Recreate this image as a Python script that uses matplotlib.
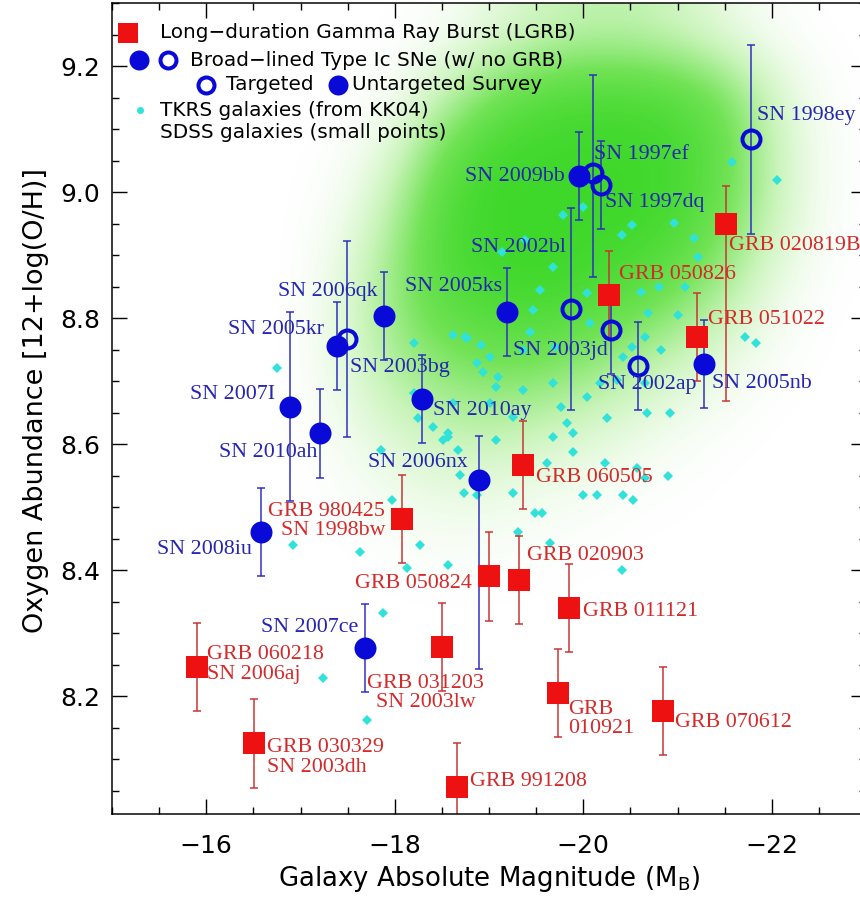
import matplotlib

matplotlib.use('Agg')

import numpy as np
import matplotlib.pyplot as plt
from matplotlib.colors import LinearSegmentedColormap
from matplotlib.ticker import MultipleLocator

# ---- long-duration GRB host galaxies ----
grb_names = ['GRB 980425\nSN 1998bw', 'GRB 060218\nSN 2006aj', 'GRB 030329\nSN 2003dh',
             'GRB 031203\nSN 2003lw', 'GRB 991208', 'GRB 050824', 'GRB 020903',
             'GRB 060505', 'GRB 011121', 'GRB\n010921', 'GRB 070612', 'GRB 050826',
             'GRB 051022', 'GRB 020819B']
grb_mag = [-18.08, -15.90, -16.51, -18.50, -18.66, -19.00, -19.32,
           -19.36, -19.85, -19.73, -20.85, -20.27, -21.21, -21.51]
grb_oh = [8.481, 8.246, 8.125, 8.278, 8.056, 8.390, 8.384,
          8.567, 8.340, 8.205, 8.176, 8.837, 8.770, 8.949]
grb_err_lo = [0.07, 0.07, 0.07, 0.07, 0.07, 0.07, 0.07, 0.07, 0.07, 0.07, 0.07, 0.07, 0.07, 0.28]
grb_err_hi = [0.07, 0.07, 0.07, 0.07, 0.07, 0.07, 0.07, 0.07, 0.07, 0.07, 0.07, 0.07, 0.07, 0.06]

# ---- broad-lined Type Ic SNe without GRB ----
sn_names = ['SN 2007I', 'SN 2010ah', 'SN 2005kr', 'SN 2006qk', 'SN 2003bg', 'SN 2010ay',
            'SN 2006nx', 'SN 2008iu', 'SN 2007ce', 'SN 2009bb', 'SN 1997ef', 'SN 1997dq',
            'SN 1998ey', 'SN 2005ks', 'SN 2002bl', 'SN 2003jd', 'SN 2002ap', 'SN 2005nb']
sn_mag = [-16.89, -17.21, -17.39, -17.49, -17.89, -18.29,
          -18.89, -16.58, -17.68, -19.95, -20.10, -20.19,
          -21.78, -19.19, -19.87, -20.29, -20.58, -21.28]
sn_oh = [8.659, 8.617, 8.756, 8.767, 8.803, 8.671,
         8.543, 8.460, 8.276, 9.025, 9.030, 9.011,
         9.084, 8.810, 8.814, 8.781, 8.724, 8.727]
sn_err_lo = [0.15, 0.07, 0.07, 0.155, 0.07, 0.07,
             0.30, 0.07, 0.07, 0.07, 0.165, 0.07,
             0.15, 0.07, 0.16, 0.07, 0.07, 0.07]
sn_err_hi = [0.15, 0.07, 0.07, 0.155, 0.07, 0.07,
             0.07, 0.07, 0.07, 0.07, 0.155, 0.07,
             0.15, 0.07, 0.16, 0.07, 0.07, 0.07]
sn_targeted = [False, False, False, True, False, False,
               False, False, False, False, True, True,
               True, False, True, True, True, False]

# ---- TKRS galaxies (KK04) ----
tkrs_mag = [-22.06, -21.58, -20.96, -20.52, -21.17, -21.22, -20.80, -20.61, -21.08, -20.69,
            -21.00, -21.72, -21.83, -20.52, -20.66, -20.82, -20.42, -20.36, -20.04, -20.07,
            -19.70, -19.44, -19.36, -18.91, -18.75, -18.87, -18.94, -19.10, -19.07, -19.36,
            -19.68, -19.76, -20.04, -20.18, -20.66, -20.68, -20.92, -20.25, -19.83, -19.89,
            -19.68, -19.25, -19.07, -18.57, -19.01, -19.54, -19.68, -19.14, -19.38, -19.78,
            -20.00, -20.41, -19.47, -19.62, -19.89, -20.23, -20.57, -20.66, -20.90, -19.25,
            -20.00, -20.15, -20.42, -20.53, -19.49, -19.56, -19.31, -19.65, -20.41, -18.67,
            -18.73, -18.69, -17.97, -18.27, -17.63, -16.92, -18.13, -18.56, -17.88, -17.24,
            -17.71, -18.87, -16.75, -18.20, -18.62, -18.77, -18.20, -18.25, -18.41, -18.56,
            -18.51, -17.85, -18.62, -19.01]
tkrs_oh = [9.019, 9.048, 8.951, 8.948, 8.927, 8.897, 8.849, 8.841, 8.849, 8.808,
           8.805, 8.770, 8.760, 8.754, 8.770, 8.749, 8.738, 8.702, 8.840, 8.792,
           8.754, 8.778, 8.749, 8.757, 8.770, 8.729, 8.714, 8.706, 8.690, 8.686,
           8.697, 8.659, 8.675, 8.697, 8.697, 8.649, 8.649, 8.641, 8.633, 8.617,
           8.611, 8.643, 8.606, 8.611, 8.738, 8.844, 8.881, 8.905, 8.924, 8.963,
           8.976, 8.932, 8.813, 8.570, 8.587, 8.570, 8.562, 8.546, 8.549, 8.522,
           8.519, 8.519, 8.519, 8.511, 8.490, 8.490, 8.460, 8.443, 8.400, 8.590,
           8.522, 8.551, 8.511, 8.440, 8.429, 8.440, 8.403, 8.408, 8.332, 8.229,
           8.162, 8.519, 8.721, 8.760, 8.773, 8.768, 8.681, 8.641, 8.627, 8.617,
           8.606, 8.590, 8.665, 8.665]

# ---- SDSS galaxy density (relative), rows = 12+log(O/H), cols = M_B ----
sdss_mag = [-16.5, -17.0, -17.5, -18.0, -18.5, -19.0, -19.5, -20.0, -20.5, -21.0, -21.5, -22.0, -22.5, -23.0]
sdss_oh = [9.25, 9.15, 9.05, 8.95, 8.85, 8.75, 8.65, 8.55, 8.45, 8.35]
sdss_density = [
    [0.00, 0.00, 0.00, 0.00, 0.02, 0.12, 0.25, 0.32, 0.32, 0.25, 0.12, 0.02, 0.00, 0.00],
    [0.00, 0.00, 0.00, 0.04, 0.30, 0.65, 0.85, 0.92, 0.92, 0.85, 0.65, 0.25, 0.03, 0.00],
    [0.00, 0.00, 0.02, 0.22, 0.72, 0.98, 1.00, 1.00, 1.00, 0.95, 0.75, 0.32, 0.05, 0.00],
    [0.00, 0.00, 0.08, 0.42, 0.88, 1.00, 1.00, 1.00, 1.00, 0.92, 0.65, 0.28, 0.04, 0.00],
    [0.00, 0.00, 0.18, 0.52, 0.85, 0.95, 1.00, 0.95, 0.85, 0.68, 0.42, 0.12, 0.01, 0.00],
    [0.00, 0.00, 0.18, 0.45, 0.62, 0.72, 0.72, 0.62, 0.48, 0.32, 0.16, 0.03, 0.00, 0.00],
    [0.00, 0.00, 0.10, 0.26, 0.38, 0.42, 0.38, 0.28, 0.18, 0.08, 0.02, 0.00, 0.00, 0.00],
    [0.00, 0.00, 0.03, 0.10, 0.16, 0.16, 0.11, 0.07, 0.03, 0.01, 0.00, 0.00, 0.00, 0.00],
    [0.00, 0.00, 0.00, 0.02, 0.04, 0.03, 0.02, 0.01, 0.00, 0.00, 0.00, 0.00, 0.00, 0.00],
    [0.00, 0.00, 0.00, 0.00, 0.00, 0.00, 0.00, 0.00, 0.00, 0.00, 0.00, 0.00, 0.00, 0.00],
]

# label placement: (dx, dy) in points from the marker, horizontal alignment
grb_label_pos = {
    'GRB 980425\nSN 1998bw': (-17, -2, 'right'),
    'GRB 060218\nSN 2006aj': (10, 3, 'left'),
    'GRB 030329\nSN 2003dh': (13, -14, 'left'),
    'GRB 031203\nSN 2003lw': (-16, -46, 'center'),
    'GRB 991208': (13, 5, 'left'),
    'GRB 050824': (-17, -7, 'right'),
    'GRB 020903': (8, 25, 'left'),
    'GRB 060505': (13, -13, 'left'),
    'GRB 011121': (14, -4, 'left'),
    'GRB\n010921': (10, -26, 'left'),
    'GRB 070612': (12, -11, 'left'),
    'GRB 050826': (10, 20, 'left'),
    'GRB 051022': (11, 17, 'left'),
    'GRB 020819B': (3, -21, 'left'),
}
sn_label_pos = {
    'SN 2007I': (-15, 12, 'right'),
    'SN 2010ah': (-3, -19, 'right'),
    'SN 2005kr': (-13, 16, 'right'),
    'SN 2006qk': (31, 47, 'right'),
    'SN 2003bg': (-34, -51, 'left'),
    'SN 2010ay': (11, -11, 'left'),
    'SN 2006nx': (-11, 18, 'right'),
    'SN 2008iu': (-9, -17, 'right'),
    'SN 2007ce': (-6, 21, 'right'),
    'SN 2009bb': (-14, 0, 'right'),
    'SN 1997ef': (1, 19, 'left'),
    'SN 1997dq': (4, -17, 'left'),
    'SN 1998ey': (6, 24, 'left'),
    'SN 2005ks': (-5, 25, 'right'),
    'SN 2002bl': (-5, 62, 'right'),
    'SN 2003jd': (-3, -20, 'right'),
    'SN 2002ap': (9, -19, 'center'),
    'SN 2005nb': (8, -19, 'left'),
}

RED = '#ee1111'
RED_TXT = '#d42a2a'
RED_BAR = '#c83232'
BLUE = '#0a0ad8'
BLUE_TXT = '#2626b0'
BLUE_BAR = '#2d2dc0'
CYAN = '#30e2da'

W, H, DPI = 860, 901, 72
fig = plt.figure(figsize=(W / DPI, H / DPI), dpi=DPI)
ax = fig.add_axes([112 / W, (H - 814) / H, 754 / W, 811 / H])

# SDSS galaxies as a smooth density cloud
green = LinearSegmentedColormap.from_list(
    'sdss', [(0.0, '#ffffff'), (0.3, '#c8f4b8'), (0.65, '#72e356'), (1.0, '#3ed82a')])
ax.imshow(np.array(sdss_density), cmap=green, vmin=0, vmax=1, aspect='auto',
          interpolation='bicubic', origin='upper', zorder=0,
          extent=[sdss_mag[0] + 0.25, sdss_mag[-1] - 0.25, sdss_oh[-1] - 0.05, sdss_oh[0] + 0.05])

# TKRS galaxies
ax.plot(tkrs_mag, tkrs_oh, 'D', color=CYAN, ms=6.5, mew=0, zorder=1)

# GRB hosts
ax.errorbar(grb_mag, grb_oh, yerr=[grb_err_lo, grb_err_hi], fmt='none', ecolor=RED_BAR,
            elinewidth=1.5, capsize=4, capthick=1.5, zorder=2)
ax.plot(grb_mag, grb_oh, 's', color=RED, ms=22, mew=0, zorder=4)

# SN hosts
ax.errorbar(sn_mag, sn_oh, yerr=[sn_err_lo, sn_err_hi], fmt='none', ecolor=BLUE_BAR,
            elinewidth=1.5, capsize=4, capthick=1.5, zorder=2)
sn_mag = np.array(sn_mag)
sn_oh = np.array(sn_oh)
tgt = np.array(sn_targeted)
ax.plot(sn_mag[~tgt], sn_oh[~tgt], 'o', color=BLUE, ms=22, mew=0, zorder=3)
ax.plot(sn_mag[tgt], sn_oh[tgt], 'o', mfc='none', mec=BLUE, ms=18, mew=4, zorder=3)

for name, m, oh in zip(grb_names, grb_mag, grb_oh):
    dx, dy, ha = grb_label_pos[name]
    ax.annotate(name, (m, oh), xytext=(dx, dy), textcoords='offset points', ha=ha, va='center',
                color=RED_TXT, fontsize=22, family='Liberation Serif', linespacing=1.05, zorder=5)
for name, m, oh in zip(sn_names, sn_mag, sn_oh):
    dx, dy, ha = sn_label_pos[name]
    ax.annotate(name, (m, oh), xytext=(dx, dy), textcoords='offset points', ha=ha, va='center',
                color=BLUE_TXT, fontsize=22, family='Liberation Serif', zorder=5)

ax.set_xlim(-15, -23)
ax.set_ylim(8.013, 9.30)

ax.xaxis.set_major_locator(MultipleLocator(2))
ax.xaxis.set_minor_locator(MultipleLocator(0.5))
ax.yaxis.set_major_locator(MultipleLocator(0.2))
ax.yaxis.set_minor_locator(MultipleLocator(0.05))
ax.xaxis.set_major_formatter(plt.FuncFormatter(lambda v, p: '\u2212%d' % abs(v)))
ax.yaxis.set_major_formatter(plt.FuncFormatter(lambda v, p: '%.1f' % v))
ax.tick_params(which='both', direction='in', top=True, right=True, width=1.4, labelsize=25)
ax.tick_params(which='major', length=15)
ax.tick_params(which='minor', length=7)
ax.tick_params(axis='x', pad=20)
ax.tick_params(axis='y', pad=12)
for sp in ax.spines.values():
    sp.set_linewidth(1.5)

ax.set_xlabel(r'Galaxy Absolute Magnitude (M$_\mathregular{B}$)', fontsize=26, labelpad=6)
ax.set_ylabel('Oxygen Abundance [12+log(O/H)]', fontsize=27)
ax.yaxis.set_label_coords(-0.083, 0.51)


# legend drawn by hand, positions given in figure pixels
def px(x, y):
    return (x - 112) / 754, (814 - y) / 811


leg = dict(transform=ax.transAxes, clip_on=False, zorder=6)
ltxt = dict(transform=ax.transAxes, fontsize=20, va='center', ha='left', zorder=6)
ax.plot(*px(128, 33), 's', color=RED, ms=20, mew=0, **leg)
ax.text(*px(160, 33), 'Long\u2212duration Gamma Ray Burst (LGRB)', **ltxt)
ax.plot(*px(139, 60), 'o', color=BLUE, ms=20, mew=0, **leg)
ax.plot(*px(168, 60), 'o', mfc='none', mec=BLUE, ms=16, mew=4, **leg)
ax.text(*px(190, 60), 'Broad\u2212lined Type Ic SNe (w/ no GRB)', **ltxt)
ax.plot(*px(206, 85), 'o', mfc='none', mec=BLUE, ms=16, mew=4, **leg)
ax.text(*px(226, 85), 'Targeted', **ltxt)
ax.plot(*px(338, 85), 'o', color=BLUE, ms=20, mew=0, **leg)
ax.text(*px(352, 85), 'Untargeted Survey', **ltxt)
ax.plot(*px(140, 110), 'o', color=CYAN, ms=7, mew=0, **leg)
ax.text(*px(160, 110), 'TKRS galaxies (from KK04)', **ltxt)
ax.text(*px(160, 133), 'SDSS galaxies (small points)', **ltxt)

fig.savefig('out.png', dpi=DPI)
